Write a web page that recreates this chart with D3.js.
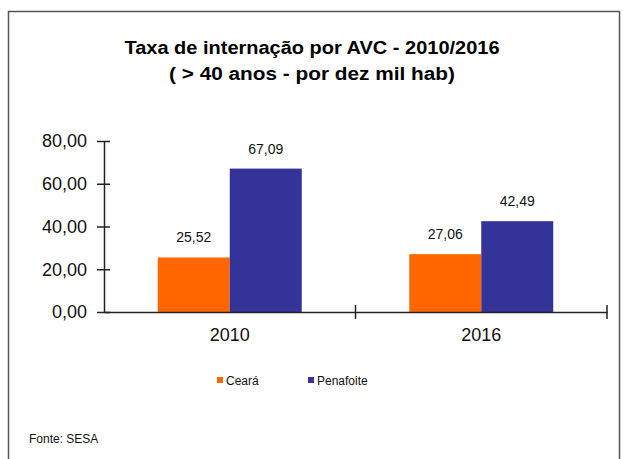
<!DOCTYPE html>
<html>
<head>
<meta charset="utf-8">
<script src="https://cdn.jsdelivr.net/npm/d3@7"></script>
<style>
  body { margin: 0; background: #fff; }
  svg { display: block; font-family: "Liberation Sans", Arial, sans-serif; }
</style>
</head>
<body>
<svg id="chart"></svg>
<script>
let width = 623, height = 459;
let years = ["2010", "2016"];
let seriesNames = ["Ceará", "Penafoite"];
let seriesColors = ["#ff6600", "#333399"];
let ceara = [25.52, 27.06];
let penafoite = [67.09, 42.49];
let yTicks = [0, 20, 40, 60, 80];

let svg = d3.select("#chart")
  .attr("width", width)
  .attr("height", height);

// outer frame
svg.append("rect")
  .attr("x", 8.5).attr("y", 11.5)
  .attr("width", 611).attr("height", 460)
  .attr("fill", "none")
  .attr("stroke", "#555")
  .attr("stroke-width", 1.5);

let left = 104, right = 607, top_sp = 141, bottom = 312;
let fmt = v => d3.format(".2f")(v).replace(".", ",");

let xax = d3.scaleBand()
  .domain(years)
  .range([left, right]);
let xsub = d3.scaleBand()
  .domain(seriesNames)
  .range([0, 144]);
let yax = d3.scaleLinear()
  .domain([0, 80])
  .range([bottom, top_sp]);

// title
svg.append("text")
  .text("Taxa de internação por AVC - 2010/2016")
  .attr("x", 312).attr("y", 54)
  .attr("text-anchor", "middle")
  .attr("font-size", 18)
  .attr("font-weight", "bold")
  .attr("textLength", 375)
  .attr("lengthAdjust", "spacingAndGlyphs");
svg.append("text")
  .text("( > 40 anos - por dez mil hab)")
  .attr("x", 312).attr("y", 80)
  .attr("text-anchor", "middle")
  .attr("font-size", 18)
  .attr("font-weight", "bold")
  .attr("textLength", 286)
  .attr("lengthAdjust", "spacingAndGlyphs");

// bars
let rows = years.map((y, i) => ({year: y, vals: [ceara[i], penafoite[i]]}));
let groups = svg.selectAll(".grp")
  .data(rows)
  .join("g")
  .attr("transform", d => `translate(${xax(d.year) + xax.bandwidth() / 2 - 72}, 0)`);

groups.selectAll("rect")
  .data(d => d.vals.map((v, j) => ({name: seriesNames[j], v: v, c: seriesColors[j]})))
  .join("rect")
  .attr("x", d => xsub(d.name))
  .attr("width", xsub.bandwidth())
  .attr("y", d => yax(d.v))
  .attr("height", d => yax(0) - yax(d.v))
  .attr("fill", d => d.c);

groups.selectAll(".lbl")
  .data(d => d.vals.map((v, j) => ({name: seriesNames[j], v: v})))
  .join("text")
  .attr("class", "lbl")
  .text(d => fmt(d.v))
  .attr("x", d => xsub(d.name) + xsub.bandwidth() / 2)
  .attr("y", d => yax(d.v) - 15)
  .attr("text-anchor", "middle")
  .attr("font-size", 14)
  .attr("fill", "#111");

// y axis
let yax_draw = d3.axisLeft(yax)
  .tickValues(yTicks)
  .tickFormat(fmt)
  .tickSizeInner(7)
  .tickSizeOuter(0)
  .tickPadding(10);
let yg = svg.append("g")
  .attr("transform", `translate(${left}, 0)`)
  .call(yax_draw);
yg.selectAll(".tick line").attr("x2", -7).attr("x1", 6).attr("stroke", "#222").attr("stroke-width", 1.5);
yg.select(".domain").attr("stroke", "#222").attr("stroke-width", 1.5);
yg.selectAll(".tick text").attr("font-size", 18).attr("fill", "#111").attr("font-family", "Liberation Sans, Arial, sans-serif");

// x axis
let xg = svg.append("g")
  .attr("transform", `translate(0, ${bottom})`)
  .call(d3.axisBottom(xax).tickSize(0).tickPadding(16));
xg.select(".domain").attr("stroke", "#222").attr("stroke-width", 1.5);
xg.selectAll(".tick text").attr("font-size", 18).attr("fill", "#111").attr("font-family", "Liberation Sans, Arial, sans-serif");
let sepTicks = [left + xax.step(), right];
xg.selectAll(".sep")
  .data(sepTicks)
  .join("line")
  .attr("x1", d => d).attr("x2", d => d)
  .attr("y1", -7).attr("y2", 7)
  .attr("stroke", "#222")
  .attr("stroke-width", 1.5);

// legend
let legX = [217, 308];
let leg = svg.selectAll(".leg")
  .data(seriesNames)
  .join("g")
  .attr("transform", (d, i) => `translate(${legX[i]}, 381)`);
leg.append("rect")
  .attr("x", 0).attr("y", -4)
  .attr("width", 6).attr("height", 6)
  .attr("fill", (d, i) => seriesColors[i]);
leg.append("text")
  .text(d => d)
  .attr("x", 9).attr("y", 4)
  .attr("font-size", 12)
  .attr("fill", "#111");

svg.append("text")
  .text("Fonte:  SESA")
  .attr("x", 29).attr("y", 443)
  .attr("font-size", 12)
  .attr("fill", "#111");
</script>
</body>
</html>
